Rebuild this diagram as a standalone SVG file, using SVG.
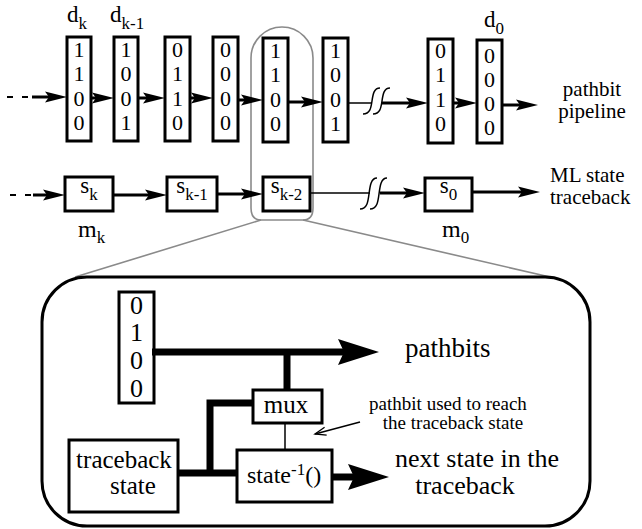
<svg xmlns="http://www.w3.org/2000/svg" width="642" height="529" viewBox="0 0 642 529" font-family="'Liberation Serif', 'Times New Roman', serif">
<style>
  text { font-family: "Liberation Serif", "Times New Roman", Times, serif; fill: #000; }
  .box { fill: #fff; stroke: #000; stroke-width: 3; }
  .dig { font-size: 22px; text-anchor: middle; }
  .dig2 { font-size: 26px; text-anchor: middle; }
  .lbl { font-size: 23px; }
  .sub { font-size: 17px; }
  .mid { text-anchor: middle; }
  .w3 { stroke: #000; stroke-width: 3; fill: none; }
  .w7 { stroke: #000; stroke-width: 7; fill: none; }
  .thin { stroke: #000; stroke-width: 1.5; fill: none; }
  .gray { stroke: #8a8a8a; stroke-width: 1.6; fill: none; }
  .dash { stroke: #000; stroke-width: 2; stroke-dasharray: 6 9; fill: none; }
</style>
<defs>
  <marker id="ah" markerUnits="userSpaceOnUse" markerWidth="24" markerHeight="12" viewBox="0 0 24 12" refX="4" refY="6" orient="auto">
    <path d="M0,0.5 L22,6 L0,11.5 L4,6 Z" fill="#000"/>
  </marker>
  <marker id="ahbig" markerUnits="userSpaceOnUse" markerWidth="42" markerHeight="28" viewBox="0 0 42 28" refX="6" refY="14" orient="auto">
    <path d="M0,1 L41,14 L0,27 L6,14 Z" fill="#000"/>
  </marker>
  <marker id="ahopen" markerUnits="userSpaceOnUse" markerWidth="14" markerHeight="10" viewBox="0 0 14 10" refX="12" refY="5" orient="auto">
    <path d="M1,1 L12,5 L1,9" fill="none" stroke="#000" stroke-width="1.3"/>
  </marker>
  <path id="sq1" d="M0,26 C7,26 8,20 9,13 C10,6 11,0 17,0" fill="none" stroke="#000" stroke-width="1.5"/>
  <path id="sq2" d="M0,31 C7,31 8,24 9,16 C10,8 11,0 17,0" fill="none" stroke="#000" stroke-width="1.5"/>
</defs>

<!-- highlight and zoom lines -->
<g id="highlight">
  <path class="gray" d="M251,58 A31,31 0 0 1 313,58 L313,208 Q313,220 303,220 L261,220 Q251,220 251,208 Z"/>
  <path class="gray" d="M261,220 L75,277"/>
  <path class="gray" d="M303,220 L550,277"/>
</g>

<!-- pathbit pipeline boxes -->
<g id="d-k">
  <rect class="box" x="67" y="37" width="24" height="104"/>
  <text class="dig" x="79" y="57">1</text><text class="dig" x="79" y="81">1</text><text class="dig" x="79" y="106">0</text><text class="dig" x="79" y="130">0</text>
  <text class="lbl" x="67" y="22">d<tspan class="sub" dy="7">k</tspan></text>
</g>
<g id="d-k-1">
  <rect class="box" x="114" y="37" width="24" height="104"/>
  <text class="dig" x="126" y="57">1</text><text class="dig" x="126" y="81">0</text><text class="dig" x="126" y="106">0</text><text class="dig" x="126" y="130">1</text>
  <text class="lbl" x="110" y="22">d<tspan class="sub" dy="7">k-1</tspan></text>
</g>
<g id="d-3">
  <rect class="box" x="165" y="37" width="25" height="104"/>
  <text class="dig" x="177.5" y="57">0</text><text class="dig" x="177.5" y="81">1</text><text class="dig" x="177.5" y="106">1</text><text class="dig" x="177.5" y="130">0</text>
</g>
<g id="d-4">
  <rect class="box" x="213" y="37" width="25" height="104"/>
  <text class="dig" x="225.5" y="57">0</text><text class="dig" x="225.5" y="81">0</text><text class="dig" x="225.5" y="106">0</text><text class="dig" x="225.5" y="130">0</text>
</g>
<g id="d-5">
  <rect class="box" x="263" y="38" width="25" height="104"/>
  <text class="dig" x="275.5" y="58">1</text><text class="dig" x="275.5" y="82">1</text><text class="dig" x="275.5" y="107">0</text><text class="dig" x="275.5" y="131">0</text>
</g>
<g id="d-6">
  <rect class="box" x="323" y="38" width="25" height="104"/>
  <text class="dig" x="335.5" y="58">1</text><text class="dig" x="335.5" y="82">0</text><text class="dig" x="335.5" y="107">0</text><text class="dig" x="335.5" y="131">1</text>
</g>
<g id="d-7">
  <rect class="box" x="428" y="39" width="25" height="104"/>
  <text class="dig" x="440.5" y="58">0</text><text class="dig" x="440.5" y="82">1</text><text class="dig" x="440.5" y="107">1</text><text class="dig" x="440.5" y="131">0</text>
</g>
<g id="d-0">
  <rect class="box" x="477" y="40" width="25" height="103"/>
  <text class="dig" x="489.5" y="63">0</text><text class="dig" x="489.5" y="87">0</text><text class="dig" x="489.5" y="111">0</text><text class="dig" x="489.5" y="135">0</text>
  <text class="lbl" x="484" y="27">d<tspan class="sub" dy="7">0</tspan></text>
</g>
<g id="pipeline-label">
  <text class="mid" x="592" y="96" font-size="21">pathbit</text>
  <text class="mid" x="592" y="118" font-size="21">pipeline</text>
</g>

<!-- state traceback row -->
<g id="s-k">
  <rect class="box" x="65" y="177" width="48" height="34"/>
  <text class="lbl mid" x="89" y="193">s<tspan class="sub" dy="7">k</tspan></text>
  <text x="78" y="237" font-size="24">m<tspan class="sub" dy="6">k</tspan></text>
</g>
<g id="s-k-1">
  <rect class="box" x="167" y="177" width="50" height="34"/>
  <text class="lbl mid" x="192" y="193">s<tspan class="sub" dy="7">k-1</tspan></text>
</g>
<g id="s-k-2">
  <rect class="box" x="263" y="177" width="47" height="34"/>
  <text class="lbl mid" x="286.5" y="193">s<tspan class="sub" dy="7">k-2</tspan></text>
</g>
<g id="s-0">
  <rect class="box" x="425" y="178" width="47" height="33"/>
  <text class="lbl mid" x="448.5" y="193">s<tspan class="sub" dy="7">0</tspan></text>
  <text x="442" y="237" font-size="24">m<tspan class="sub" dy="6">0</tspan></text>
</g>
<g id="traceback-label">
  <text x="550" y="182" font-size="21">ML state</text>
  <text x="550" y="204" font-size="21">traceback</text>
</g>

<!-- zoomed detail panel -->
<g id="detail-panel">
  <rect x="42" y="277" width="548" height="249" rx="45" ry="45" fill="none" stroke="#000" stroke-width="3"/>
</g>
<g id="bits-reg">
  <rect class="box" x="119" y="292" width="35" height="111"/>
  <text class="dig2" x="136.5" y="314">0</text><text class="dig2" x="136.5" y="341">1</text><text class="dig2" x="136.5" y="369">0</text><text class="dig2" x="136.5" y="397">0</text>
</g>
<g id="mux">
  <rect class="box" x="253" y="390" width="69" height="33"/>
  <text class="mid" x="286" y="413" font-size="25">mux</text>
</g>
<g id="traceback-state">
  <rect class="box" x="69" y="440" width="109" height="72"/>
  <text class="mid" x="124" y="468" font-size="25">traceback</text>
  <text class="mid" x="133" y="494" font-size="25">state</text>
</g>
<g id="state-inv">
  <rect class="box" x="237" y="450" width="95" height="52"/>
  <text x="247" y="483" font-size="24">state<tspan font-size="17" dy="-8">-1</tspan><tspan font-size="24" dy="8">()</tspan></text>
</g>
<g id="panel-labels">
  <text x="405" y="357" font-size="27">pathbits</text>
  <text class="mid" x="448" y="410" font-size="19">pathbit used to reach</text>
  <text class="mid" x="453" y="429" font-size="19">the traceback state</text>
  <text class="mid" x="477" y="467" font-size="26">next state in the</text>
  <text class="mid" x="465" y="494" font-size="26">traceback</text>
</g>

<!-- connectors -->
<g id="connectors">
  <path class="dash" d="M7,97 H32"/>
  <path class="w3" d="M32,97 H49" marker-end="url(#ah)"/>
  <path class="w3" d="M91,98 H96" marker-end="url(#ah)"/>
  <path class="w3" d="M138,98 H147" marker-end="url(#ah)"/>
  <path class="w3" d="M190,98 H195" marker-end="url(#ah)"/>
  <path class="w3" d="M238,100 H245" marker-end="url(#ah)"/>
  <path class="w3" d="M288,102 H305" marker-end="url(#ah)"/>
  <path class="thin" d="M348,103 H372"/>
  <use href="#sq1" x="363" y="88"/>
  <use href="#sq1" x="373" y="88"/>
  <path class="w3" d="M382,103 H410" marker-end="url(#ah)"/>
  <path class="w3" d="M453,103 H459" marker-end="url(#ah)"/>
  <path class="w3" d="M502,105 H520" marker-end="url(#ah)"/>

  <path class="dash" d="M10,195 H33"/>
  <path class="w3" d="M33,195 H47" marker-end="url(#ah)"/>
  <path class="w3" d="M113,195 H149" marker-end="url(#ah)"/>
  <path class="w3" d="M217,194 H245" marker-end="url(#ah)"/>
  <path class="thin" d="M310,193 H370"/>
  <use href="#sq2" x="360" y="178"/>
  <use href="#sq2" x="370" y="178"/>
  <path class="w3" d="M380,193 H407" marker-end="url(#ah)"/>
  <path class="w3" d="M472,192 H522" marker-end="url(#ah)"/>

  <path class="w7" d="M152,352 H344" marker-end="url(#ahbig)"/>
  <path class="w7" d="M287,352 V390"/>
  <path class="w7" d="M253,403 H210 V473"/>
  <path class="w7" d="M178,473 H237"/>
  <path class="thin" d="M285,423 V450"/>
  <path class="w7" d="M332,477 H354" marker-end="url(#ahbig)"/>
  <path stroke="#000" stroke-width="1.3" fill="none" d="M360,422 L315,434" marker-end="url(#ahopen)"/>
</g>
</svg>
